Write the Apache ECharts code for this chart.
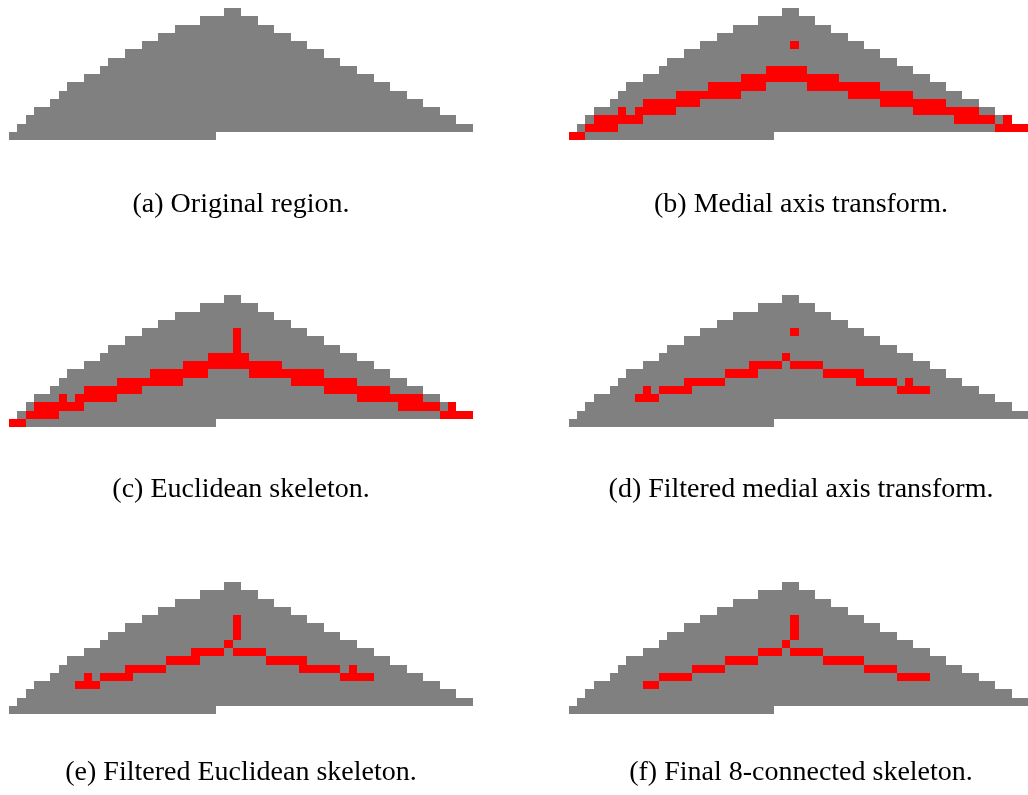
<!DOCTYPE html>
<html>
<head>
<meta charset="utf-8">
<title>Skeletonization of a triangular region</title>
<script src="https://cdn.jsdelivr.net/npm/echarts@6/dist/echarts.min.js"></script>
<style>
  html, body { margin: 0; padding: 0; background: #ffffff; }
  #chart { width: 1028px; height: 795px; }
</style>
</head>
<body>
<div id="chart"></div>
<script>
// Pixel raster size of the region
const GRID_COLS = 56;
const GRID_ROWS = 16;

// Region: first and last filled column of each row (row 0 at the top)
const regionFirst = [26, 23, 20, 18, 16, 14, 12, 11, 9, 7, 6, 5, 3, 2, 1, 0];
const regionLast  = [27, 29, 31, 33, 35, 37, 39, 41, 43, 45, 47, 49, 51, 53, 55, 24];

// Skeleton pixels as horizontal runs: [row, firstCol, lastCol]
const medialAxis = [
  [4, 27, 27],
  [7, 24, 28],
  [8, 21, 32],
  [9, 17, 23], [9, 29, 37],
  [10, 13, 20], [10, 34, 41],
  [11, 9, 15], [11, 38, 45],
  [12, 6, 6], [12, 8, 12], [12, 42, 49],
  [13, 3, 8], [13, 47, 51], [13, 53, 53],
  [14, 2, 5], [14, 52, 55],
  [15, 0, 1]
];

const euclideanSkeleton = [
  [4, 27, 27], [5, 27, 27], [6, 27, 27],
  [7, 24, 28],
  [8, 21, 32],
  [9, 17, 23], [9, 29, 37],
  [10, 13, 20], [10, 34, 41],
  [11, 9, 15], [11, 38, 45],
  [12, 6, 6], [12, 8, 12], [12, 42, 49],
  [13, 3, 8], [13, 47, 51], [13, 53, 53],
  [14, 2, 5], [14, 52, 55],
  [15, 0, 1]
];

const filteredMedialAxis = [
  [4, 27, 27],
  [7, 26, 26],
  [8, 22, 25], [8, 27, 30],
  [9, 19, 22], [9, 31, 35],
  [10, 14, 18], [10, 35, 39], [10, 41, 41],
  [11, 9, 9], [11, 11, 14], [11, 40, 43],
  [12, 8, 10]
];

const filteredEuclidean = [
  [4, 27, 27], [5, 27, 27], [6, 27, 27],
  [7, 26, 26],
  [8, 22, 25], [8, 27, 30],
  [9, 19, 22], [9, 31, 35],
  [10, 14, 18], [10, 35, 39], [10, 41, 41],
  [11, 9, 9], [11, 11, 14], [11, 40, 43],
  [12, 8, 10]
];

const finalSkeleton = [
  [4, 27, 27], [5, 27, 27], [6, 27, 27],
  [7, 26, 26],
  [8, 23, 25], [8, 27, 30],
  [9, 19, 22], [9, 31, 35],
  [10, 15, 18], [10, 36, 39],
  [11, 11, 14], [11, 40, 43],
  [12, 9, 10]
];

const captions = [
  '(a) Original region.',
  '(b) Medial axis transform.',
  '(c) Euclidean skeleton.',
  '(d) Filtered medial axis transform.',
  '(e) Filtered Euclidean skeleton.',
  '(f) Final 8-connected skeleton.'
];

const panelSkeletons = [null, medialAxis, euclideanSkeleton, filteredMedialAxis, filteredEuclidean, finalSkeleton];

// Layout of the 3x2 panel arrangement
const PANEL_W = 464, PANEL_H = 132;
const PANEL_LEFT = [9, 569];
const PANEL_TOP = [8, 295, 582];
const CAPTION_MID_Y = [205, 490, 773];

const REGION_COLOR = '#808080';
const SKELETON_COLOR = '#ff0000';

function runRenderer(color) {
  return function (params, api) {
    const c0 = api.value(0), row = api.value(1), c1 = api.value(2);
    const p0 = api.coord([c0, row]);
    const p1 = api.coord([c1 + 1, row + 1]);
    const x0 = Math.round(Math.min(p0[0], p1[0]));
    const x1 = Math.round(Math.max(p0[0], p1[0]));
    const y0 = Math.round(Math.min(p0[1], p1[1]));
    const y1 = Math.round(Math.max(p0[1], p1[1]));
    return {
      type: 'rect',
      shape: { x: x0, y: y0, width: x1 - x0, height: y1 - y0 },
      style: { fill: color }
    };
  };
}

const regionRuns = regionFirst.map((first, row) => [first, row, regionLast[row]]);

const grids = [], xAxes = [], yAxes = [], series = [], texts = [];

for (let i = 0; i < 6; i++) {
  const col = i % 2, rowIdx = Math.floor(i / 2);
  const left = PANEL_LEFT[col], top = PANEL_TOP[rowIdx];
  grids.push({ left: left, top: top, width: PANEL_W, height: PANEL_H, containLabel: false });
  xAxes.push({ gridIndex: i, type: 'value', min: 0, max: GRID_COLS, show: false });
  yAxes.push({ gridIndex: i, type: 'value', min: 0, max: GRID_ROWS, inverse: true, show: false });

  series.push({
    type: 'custom',
    xAxisIndex: i, yAxisIndex: i,
    dimensions: ['firstCol', 'row', 'lastCol'],
    encode: { x: [0, 2], y: 1 },
    data: regionRuns,
    renderItem: runRenderer(REGION_COLOR),
    silent: true
  });

  const skel = panelSkeletons[i];
  if (skel) {
    series.push({
      type: 'custom',
      xAxisIndex: i, yAxisIndex: i,
      dimensions: ['firstCol', 'row', 'lastCol'],
      encode: { x: [0, 2], y: 1 },
      data: skel.map(r => [r[1], r[0], r[2]]),
      renderItem: runRenderer(SKELETON_COLOR),
      silent: true,
      z: 3
    });
  }

  texts.push({
    type: 'text',
    x: left + PANEL_W / 2,
    y: CAPTION_MID_Y[rowIdx],
    style: {
      text: captions[i],
      fill: '#000000',
      font: '28px "Liberation Serif", "DejaVu Serif", serif',
      textAlign: 'center',
      textVerticalAlign: 'middle'
    }
  });
}

const chart = echarts.init(document.getElementById('chart'), null, { renderer: 'canvas' });
chart.setOption({
  animation: false,
  backgroundColor: '#ffffff',
  grid: grids,
  xAxis: xAxes,
  yAxis: yAxes,
  series: series,
  graphic: { elements: texts }
});
</script>
</body>
</html>
